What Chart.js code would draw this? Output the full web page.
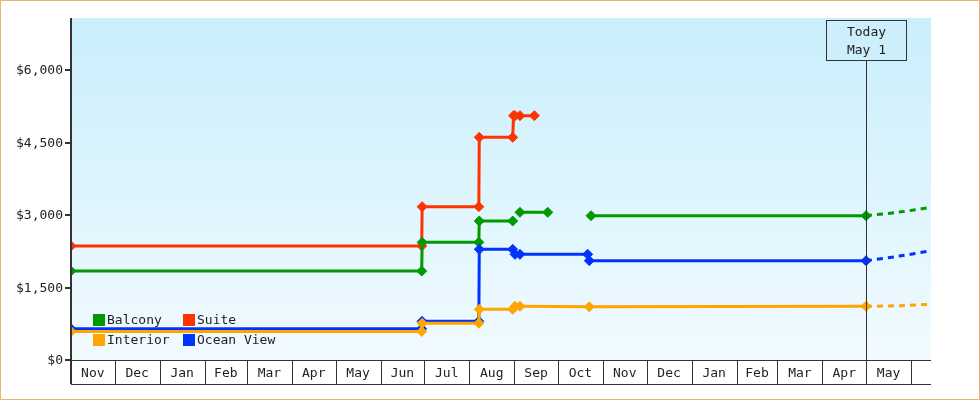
<!DOCTYPE html>
<html><head><meta charset="utf-8">
<script src="https://cdn.jsdelivr.net/npm/chart.js@4"></script>
<style>html,body{margin:0;padding:0;background:#fff}#wrap{width:980px;height:400px}</style>
</head><body><div id="wrap"><canvas id="c" width="980" height="400"></canvas></div>
<script>
// Days counted from Nov 1 (first month shown)
const monthLabels = ['Nov','Dec','Jan','Feb','Mar','Apr','May','Jun','Jul','Aug','Sep','Oct','Nov','Dec','Jan','Feb','Mar','Apr','May'];
const monthDays = [30,31,31,29,31,30,31,30,31,31,30,31,30,31,31,28,31,30,31];
const yTicks = [0,1500,3000,4500,6000];
const todayDay = 547;
const endDay = 591.7;

const balconyDays   = [0,241.3,241.6,280.6,280.9,303.9,306,308.9,328,340,357.8,547];
const balconyPrices = [1840,1840,2434,2434,2876,2876,null,3055,3055,null,2986,2986];
const suiteDays     = [0,241.3,241.6,280.6,280.9,303.9,304.5,305.5,308.9,318.8];
const suitePrices   = [2360,2360,3172,3172,4607,4607,5055,5055,5055,5055];
const interiorDays  = [0,241.3,241.6,280.6,280.9,303.9,305.5,308.9,356.6,547];
const interiorPrices= [590,590,760,760,1048,1048,1110,1110,1100,1110];
const oceanDays     = [0,241.3,241.5,280.6,280.9,303.9,305.5,308.9,355.5,356.6,547];
const oceanPrices   = [648,648,800,800,2290,2290,2186,2186,2186,2055,2055];
const forecastDays  = [547,570,591.7];
const balconyFc  = [2986,3060,3160];
const oceanFc    = [2055,2150,2262];
const interiorFc = [1110,1125,1152];

const colors = {Balcony:'#009900',Suite:'#ff3300',Interior:'#ffa500','Ocean View':'#0033ff'};
const pts = (xs,ys)=>xs.map((x,i)=>({x:x,y:ys[i]}));
function ds(label,xs,ys){return {label,data:pts(xs,ys),borderColor:colors[label],backgroundColor:colors[label],borderWidth:3,pointStyle:'rectRot',pointRadius:5,pointBorderWidth:1,pointHoverRadius:5,spanGaps:false,tension:0};}
function fc(label,ys){return {label:label+' fc',data:pts(forecastDays,ys),borderColor:colors[label],borderWidth:3,borderDash:[6,5],pointRadius:0,tension:0.3};}

const FONT = '13px "DejaVu Sans Mono", monospace';
const deco = {
  id:'deco',
  beforeDatasetsDraw(chart){
    const {ctx,chartArea:a}=chart;
    ctx.save();
    const g=ctx.createLinearGradient(0,a.top,0,a.bottom);
    g.addColorStop(0,'#c9eefc');g.addColorStop(1,'#f2fbff');
    ctx.fillStyle=g;ctx.fillRect(a.left,a.top,a.right-a.left,a.bottom-a.top);
    ctx.restore();
  },
  afterDatasetsDraw(chart){
    const {ctx,chartArea:a,scales:{x,y}}=chart;
    ctx.save();
    ctx.strokeStyle='#333';ctx.fillStyle='#000';ctx.lineWidth=1;ctx.font=FONT;
    const tx=Math.round(x.getPixelForValue(todayDay))+0.5;
    ctx.beginPath();ctx.moveTo(tx,60);ctx.lineTo(tx,a.bottom);ctx.stroke();
    ctx.fillStyle='#cdeffc';ctx.fillRect(826.5,20.5,80,40);ctx.strokeRect(826.5,20.5,80,40);
    ctx.fillStyle='#222';ctx.textAlign='center';ctx.textBaseline='middle';
    ctx.fillText('Today',tx,33);ctx.fillText('May 1',tx,51);
    ctx.lineWidth=2;ctx.strokeStyle='#333';
    ctx.beginPath();ctx.moveTo(a.left,a.top);ctx.lineTo(a.left,a.bottom+24);ctx.stroke();
    ctx.textAlign='right';ctx.fillStyle='#222';
    yTicks.forEach(v=>{const py=Math.round(y.getPixelForValue(v));
      ctx.beginPath();ctx.moveTo(a.left-6,py);ctx.lineTo(a.left,py);ctx.stroke();
      ctx.fillText('$'+v.toLocaleString('en-US'),a.left-8,py+1);});
    ctx.lineWidth=1;
    ctx.beginPath();ctx.moveTo(a.left,a.bottom+0.5);ctx.lineTo(a.right,a.bottom+0.5);
    ctx.moveTo(a.left,a.bottom+24.5);ctx.lineTo(a.right,a.bottom+24.5);ctx.stroke();
    ctx.textAlign='center';
    let d=0;
    monthLabels.forEach((m,i)=>{
      const x0=x.getPixelForValue(d), x1=x.getPixelForValue(d+monthDays[i]);
      const bx=Math.round(x1)+0.5;
      if(bx<a.right){ctx.beginPath();ctx.moveTo(bx,a.bottom);ctx.lineTo(bx,a.bottom+24);ctx.stroke();}
      ctx.fillText(m,(x0+x1)/2,a.bottom+14);
      d+=monthDays[i];
    });
    const leg=[['Balcony',93,320],['Suite',183,320],['Interior',93,340],['Ocean View',183,340]];
    ctx.textAlign='left';
    leg.forEach(([n,lx,ly])=>{ctx.fillStyle=colors[n];ctx.fillRect(lx,ly-6,12,12);
      ctx.fillStyle='#222';ctx.fillText(n,lx+14,ly+1);});
    ctx.strokeStyle='#f0b070';ctx.strokeRect(0.5,0.5,979,399);
    ctx.restore();
  }
};

new Chart(document.getElementById('c'),{
  type:'line',
  data:{datasets:[
    fc('Interior',interiorFc),fc('Ocean View',oceanFc),fc('Balcony',balconyFc),
    ds('Interior',interiorDays,interiorPrices),ds('Ocean View',oceanDays,oceanPrices),
    ds('Balcony',balconyDays,balconyPrices),ds('Suite',suiteDays,suitePrices)
  ]},
  options:{
    responsive:false,animation:false,devicePixelRatio:1,
    layout:{padding:{left:71,top:18,right:49,bottom:40}},
    plugins:{legend:{display:false},tooltip:{enabled:false}},
    scales:{
      x:{type:'linear',min:0,max:endDay,display:false},
      y:{min:0,max:7076,display:false}
    }
  },
  plugins:[deco]
});
</script></body></html>
